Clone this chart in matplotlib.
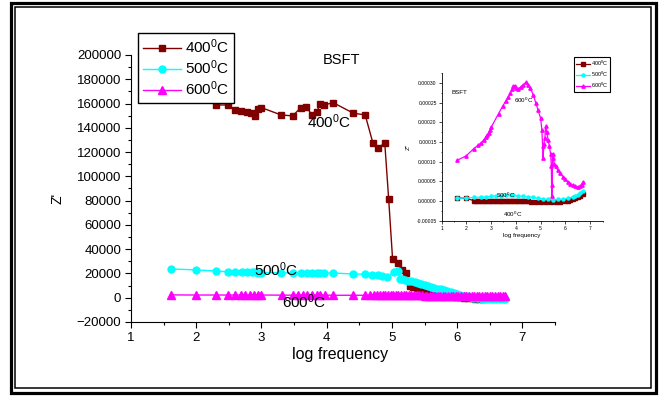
import matplotlib
matplotlib.use('Agg')
import matplotlib.pyplot as plt
from matplotlib.patches import Rectangle
from matplotlib.ticker import MultipleLocator, FormatStrFormatter

plt.rcParams['font.family'] = ['Liberation Sans', 'DejaVu Sans']
plt.rcParams['mathtext.fontset'] = 'custom'
plt.rcParams['mathtext.rm'] = 'Liberation Sans'
plt.rcParams['mathtext.it'] = 'Liberation Sans:italic'

# main panel: Z' vs log frequency
labels = ['400$^0$C', '500$^0$C', '600$^0$C']
colors = ['#800000', '#00FFFF', '#FF00FF']

x400 = [1.62, 2.0, 2.3, 2.48, 2.6, 2.69, 2.78, 2.84, 2.9, 2.95, 3.0, 3.3, 3.48, 3.6,
        3.69, 3.77, 3.85, 3.9, 3.96, 4.1, 4.41, 4.59, 4.71, 4.79, 4.89, 4.95, 5.01,
        5.1, 5.16, 5.22, 5.28, 5.33, 5.38, 5.43, 5.48, 5.53, 5.58, 5.63, 5.68, 5.74,
        5.8, 5.86, 5.92, 5.98, 6.04, 6.1, 6.16, 6.22, 6.28, 6.34, 6.4, 6.46, 6.52,
        6.58, 6.64, 6.7]
y400 = [188000, 171000, 158800, 158800, 154700, 153900, 153300, 152500, 149800,
        155300, 156600, 150600, 149800, 156600, 157400, 150600, 153300, 159600,
        158800, 160700, 152000, 150600, 127200, 123100, 127700, 81400, 31900,
        28900, 22900, 20100, 9700, 9000, 8200, 7400, 6600, 5800, 5000, 4400, 3800,
        3200, 2500, 1800, 1200, 700, 300, -100, -400, -600, -700, -700, -700, -600,
        -500, -400, -300, -200]

x500 = [1.62, 2.0, 2.3, 2.48, 2.6, 2.7, 2.78, 2.85, 2.9, 2.95, 3.0, 3.3, 3.48, 3.6,
        3.7, 3.78, 3.85, 3.9, 3.96, 4.1, 4.4, 4.58, 4.7, 4.78, 4.85, 4.92, 5.03,
        5.09, 5.12, 5.16, 5.2, 5.25, 5.3, 5.35, 5.4, 5.45, 5.5, 5.55, 5.6, 5.65, 5.7,
        5.75, 5.8, 5.85, 5.9, 5.95, 6.0, 6.05, 6.1, 6.15, 6.2, 6.25, 6.3, 6.35, 6.4,
        6.45, 6.5, 6.55, 6.6, 6.65, 6.7, 6.73]
y500 = [23700, 22900, 22000, 21400, 21200, 21000, 20900, 20800, 20800, 20700,
        20700, 20500, 20400, 20200, 20100, 20000, 20000, 20000, 20000, 20400,
        19500, 19400, 19000, 18600, 18000, 17000, 21400, 22300, 15100, 15000,
        14600, 14000, 13500, 12800, 12000, 11300, 10500, 9800, 9000, 8300, 7500,
        6800, 6000, 5300, 4500, 3700, 3000, 2200, 1500, 1000, 500, 100, -300, -500,
        -700, -900, -1000, -1000, -1000, -1000, -1000, -1000]

x600 = [1.62, 2.0, 2.3, 2.48, 2.6, 2.68, 2.75, 2.82, 2.89, 2.95, 3.0, 3.31, 3.48,
        3.56, 3.63, 3.7, 3.77, 3.85, 3.9, 3.97, 4.1, 4.41, 4.59, 4.66, 4.72, 4.77,
        4.82, 4.86, 4.9, 4.94, 4.98, 5.02, 5.06, 5.1, 5.14, 5.18, 5.22, 5.26, 5.3,
        5.34, 5.38, 5.42, 5.46, 5.5, 5.54, 5.58, 5.62, 5.66, 5.7, 5.74, 5.78, 5.82,
        5.86, 5.9, 5.94, 5.98, 6.02, 6.06, 6.1, 6.14, 6.18, 6.22, 6.26, 6.3, 6.34,
        6.38, 6.42, 6.46, 6.5, 6.54, 6.58, 6.62, 6.66, 6.7, 6.73]
y600 = [2300, 2200, 2200, 2200, 2200, 2200, 2200, 2200, 2200, 2200, 2200, 2100,
        2100, 2100, 2100, 2100, 2100, 2100, 2100, 2100, 2000, 2000, 2000, 2000,
        2000, 2000, 2000, 2000, 2000, 2000, 2000, 2000, 2000, 2000, 2000, 2000,
        2000, 1900, 1900, 1900, 1900, 1900, 1900, 1800, 1800, 1800, 1800, 1800,
        1700, 1700, 1700, 1700, 1600, 1600, 1600, 1600, 1500, 1500, 1500, 1500,
        1400, 1400, 1400, 1400, 1300, 1300, 1300, 1300, 1200, 1200, 1200, 1100,
        1100, 1100, 1000]

# inset: Z'' vs log frequency
xi400 = [1.62, 2.0, 2.3, 2.4, 2.5, 2.6, 2.7, 2.8, 2.9, 3.0, 3.1, 3.2, 3.3, 3.4, 3.5,
         3.6, 3.7, 3.8, 3.9, 4.0, 4.1, 4.2, 4.3, 4.4, 4.5, 4.6, 4.8, 5.0, 5.2, 5.4,
         5.6, 5.8, 6.0, 6.1, 6.2, 6.3, 6.4, 6.5, 6.6, 6.7]
yi400 = [0.8e-5, 0.7e-5, 0.1e-5, 0.05e-5, 0.0, 0.0, 0.0, 0.0, 0.0, 0.0, 0.0, 0.0,
         0.0, 0.0, 0.0, -0.05e-5, -0.05e-5, -0.05e-5, -0.05e-5, -0.05e-5, -0.05e-5,
         -0.1e-5, -0.1e-5, -0.1e-5, -0.1e-5, -0.15e-5, -0.2e-5, -0.2e-5, -0.25e-5,
         -0.3e-5, -0.3e-5, -0.2e-5, 0.0, 0.1e-5, 0.3e-5, 0.5e-5, 0.7e-5, 0.9e-5,
         1.2e-5, 1.8e-5]

xi500 = [1.62, 2.0, 2.3, 2.6, 2.8, 3.0, 3.2, 3.4, 3.6, 3.8, 3.9, 4.1, 4.3, 4.5, 4.7,
         4.9, 5.1, 5.3, 5.5, 5.7, 5.9, 6.1, 6.3, 6.4, 6.5, 6.6, 6.7]
yi500 = [0.7e-5, 0.8e-5, 0.9e-5, 1.0e-5, 1.1e-5, 1.2e-5, 1.3e-5, 1.4e-5, 1.45e-5,
         1.5e-5, 1.5e-5, 1.3e-5, 1.2e-5, 1.05e-5, 0.9e-5, 0.7e-5, 0.5e-5, 0.4e-5,
         0.35e-5, 0.4e-5, 0.5e-5, 0.7e-5, 1.0e-5, 1.2e-5, 1.5e-5, 2.0e-5, 2.6e-5]

xi600 = [1.62, 2.0, 2.3, 2.48, 2.6, 2.7, 2.78, 2.85, 2.9, 2.95, 3.0, 3.3, 3.48, 3.6,
         3.7, 3.78, 3.85, 3.9, 3.96, 4.0, 4.1, 4.2, 4.3, 4.4, 4.5, 4.58, 4.7, 4.8,
         4.9, 5.0, 5.05, 5.08, 5.1, 5.13, 5.17, 5.2, 5.25, 5.3, 5.35, 5.4, 5.43,
         5.45, 5.47, 5.48, 5.5, 5.55, 5.6, 5.7, 5.8, 5.9, 6.0, 6.1, 6.2, 6.3, 6.4,
         6.5, 6.6, 6.65, 6.7]
yi600 = [1.03e-4, 1.15e-4, 1.33e-4, 1.42e-4, 1.48e-4, 1.55e-4, 1.62e-4, 1.68e-4,
         1.74e-4, 1.80e-4, 1.87e-4, 2.22e-4, 2.42e-4, 2.55e-4, 2.64e-4, 2.75e-4,
         2.84e-4, 2.92e-4, 2.93e-4, 2.86e-4, 2.85e-4, 2.90e-4, 2.95e-4, 3.01e-4,
         2.95e-4, 2.87e-4, 2.70e-4, 2.50e-4, 2.30e-4, 2.10e-4, 1.80e-4, 1.40e-4,
         1.10e-4, 1.45e-4, 1.60e-4, 1.90e-4, 1.75e-4, 1.55e-4, 1.40e-4, 1.20e-4,
         0.90e-4, 0.12e-4, 0.40e-4, 1.20e-4, 1.10e-4, 0.95e-4, 0.88e-4, 0.78e-4,
         0.70e-4, 0.62e-4, 0.55e-4, 0.49e-4, 0.44e-4, 0.40e-4, 0.37e-4, 0.36e-4,
         0.38e-4, 0.42e-4, 0.48e-4]

fig = plt.figure(figsize=(6.6, 3.97), dpi=100)

# double border around the whole picture
fig.add_artist(Rectangle((0.0174, 0.0113), 0.9758, 0.9811, transform=fig.transFigure,
                         fill=False, edgecolor='black', linewidth=2.3))
fig.add_artist(Rectangle((0.0224, 0.0239), 0.9647, 0.9590, transform=fig.transFigure,
                         fill=False, edgecolor='black', linewidth=1.1))

ax = fig.add_axes([0.1985, 0.189, 0.6424, 0.6725])
ax.plot(x400, y400, color=colors[0], marker='s', ms=4.6, lw=1, label=labels[0])
ax.plot(x500, y500, color=colors[1], marker='o', ms=5, lw=1, label=labels[1])
ax.plot(x600, y600, color=colors[2], marker='^', ms=5.3, lw=1, label=labels[2])

ax.set_xlim(1, 7.5)
ax.set_ylim(-20000, 200000)
ax.xaxis.set_major_locator(MultipleLocator(1))
ax.xaxis.set_minor_locator(MultipleLocator(0.5))
ax.yaxis.set_major_locator(MultipleLocator(20000))
ax.yaxis.set_minor_locator(MultipleLocator(10000))
ax.spines['top'].set_visible(False)
ax.spines['right'].set_visible(False)
ax.tick_params(which='major', direction='out', length=4, width=0.8, labelsize=9.5, pad=3)
ax.tick_params(which='minor', direction='out', length=2, width=0.8)
ax.set_xticks([1, 2, 3, 4, 5, 6, 7])

ax.text(4.23, 195500, 'BSFT', fontsize=10.5, ha='center', va='center')
ax.text(4.03, 144800, labels[0], fontsize=11, ha='center', va='center')
ax.text(3.22, 22850, labels[1], fontsize=11, ha='center', va='center')
ax.text(3.65, -3500, labels[2], fontsize=11, ha='center', va='center')

fig.text(340 / 660, 1 - 355 / 397, 'log frequency', fontsize=11.5, ha='center', va='center')
fig.text(57 / 660, 1 - 198 / 397, "Z'", fontsize=10, rotation=90, ha='center', va='center')

leg = ax.legend(loc='upper left', bbox_to_anchor=(0.209, 0.917), bbox_transform=fig.transFigure,
                fontsize=11, frameon=True, fancybox=False, edgecolor='black', framealpha=1,
                borderpad=0.3, labelspacing=0.15, handlelength=2.5, handletextpad=0.3,
                borderaxespad=0)
leg.get_frame().set_linewidth(1)

# inset
ax2 = fig.add_axes([0.669, 0.444, 0.244, 0.372])
ax2.plot(xi400, yi400, color=colors[0], marker='s', ms=2.2, lw=0.9, label=labels[0])
ax2.plot(xi500, yi500, color=colors[1], marker='o', ms=2.2, lw=0.9, label=labels[1])
ax2.plot(xi600, yi600, color=colors[2], marker='^', ms=2.4, lw=0.9, label=labels[2])
ax2.set_xlim(1, 7.5)
ax2.set_ylim(-0.00005, 0.000325)
ax2.xaxis.set_major_locator(MultipleLocator(1))
ax2.xaxis.set_minor_locator(MultipleLocator(0.5))
ax2.yaxis.set_major_locator(MultipleLocator(0.00005))
ax2.yaxis.set_minor_locator(MultipleLocator(0.000025))
ax2.yaxis.set_major_formatter(FormatStrFormatter('%.5f'))
ax2.set_xticks([1, 2, 3, 4, 5, 6, 7])
ax2.spines['top'].set_visible(False)
ax2.spines['right'].set_visible(False)
for s in ax2.spines.values():
    s.set_linewidth(0.6)
ax2.tick_params(which='major', direction='out', length=2, width=0.5, labelsize=3.6, pad=1.5)
ax2.tick_params(which='minor', direction='out', length=1, width=0.5)
ax2.set_xlabel('log frequency', fontsize=4.5, labelpad=2)
ax2.set_ylabel("Z''", fontsize=4.5, labelpad=4)
ax2.text(1.73, 0.000275, 'BSFT', fontsize=4.5, ha='center', va='center')
ax2.text(4.33, 0.000255, labels[2], fontsize=4.5, ha='center', va='center')
ax2.text(3.6, 0.000015, labels[1], fontsize=4.5, ha='center', va='center')
ax2.text(3.86, -0.000034, labels[0], fontsize=4.5, ha='center', va='center')

leg2 = ax2.legend(loc='upper right', bbox_to_anchor=(0.924, 0.856), bbox_transform=fig.transFigure,
                  fontsize=4, frameon=True, fancybox=False, edgecolor='black', framealpha=1,
                  borderpad=0.3, labelspacing=0.3, handlelength=2.6, handletextpad=0.1,
                  borderaxespad=0)
leg2.get_frame().set_linewidth(0.8)

fig.savefig('out.png', dpi=100)
